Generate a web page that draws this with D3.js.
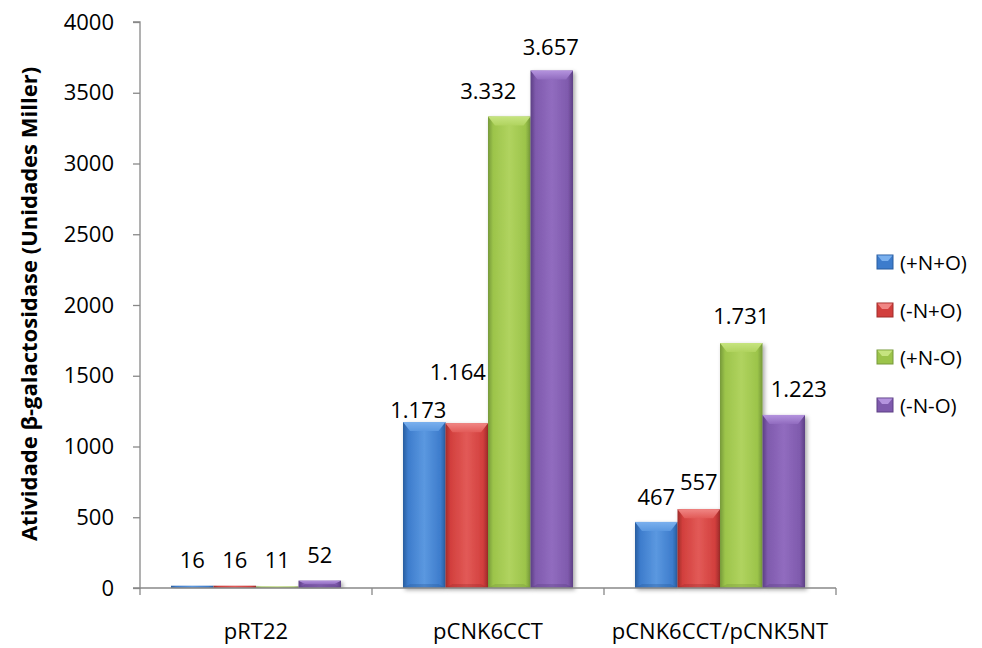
<!DOCTYPE html>
<html><head><meta charset="utf-8">
<script src="https://cdn.jsdelivr.net/npm/d3@7"></script>
<style>
html,body{margin:0;padding:0;background:#fff;}
text{font-family:"Open Sans","Liberation Sans",sans-serif;fill:#000;}
</style></head>
<body>
<svg id="chart" width="982" height="648"></svg>
<script>
const categories = ["pRT22", "pCNK6CCT", "pCNK6CCT/pCNK5NT"];
const seriesNames = ["(+N+O)", "(-N+O)", "(+N-O)", "(-N-O)"];
const valuesPlusNPlusO = [16, 1173, 467];
const valuesMinusNPlusO = [16, 1164, 557];
const valuesPlusNMinusO = [11, 3332, 1731];
const valuesMinusNMinusO = [52, 3657, 1223];
const yTicks = [0, 500, 1000, 1500, 2000, 2500, 3000, 3500, 4000];
const yTitle = "Atividade β-galactosidase (Unidades Miller)";

const seriesValues = [valuesPlusNPlusO, valuesMinusNPlusO, valuesPlusNMinusO, valuesMinusNMinusO];
const colors = [
  {base:"#3d7ccc", light:"#5b98e0", dark:"#295d9f", top:"#7ab0ee"},
  {base:"#d23f3d", light:"#e25a57", dark:"#a02c2a", top:"#f08684"},
  {base:"#9cc44a", light:"#b0d35f", dark:"#76993a", top:"#c6e47f"},
  {base:"#7f5aad", light:"#916cbf", dark:"#5c3f84", top:"#b493de"}
];
// manual label nudges [series][category] = [dx, dy]
const labelNudge = [
  [[0,0],[-6,14],[0,1]],
  [[0,0],[-9,-25],[0,-1]],
  [[0,0],[-21,0],[0,-1]],
  [[0,0],[-1,2],[15,0]]
];

const svg = d3.select("#chart");
const x0 = d3.scaleBand().domain(categories).range([140, 836]);
const x1 = d3.scaleBand().domain(d3.range(seriesNames.length)).range([31, x0.bandwidth() - 31]);
const y = d3.scaleLinear().domain([0, 4000]).range([588, 22]);

const defs = svg.append("defs");
colors.forEach((c, i) => {
  const g = defs.append("linearGradient").attr("id", "g" + i).attr("x1", "0").attr("x2", "1").attr("y1", "0").attr("y2", "0");
  g.append("stop").attr("offset", "0").attr("stop-color", c.dark);
  g.append("stop").attr("offset", "0.12").attr("stop-color", c.base);
  g.append("stop").attr("offset", "0.5").attr("stop-color", c.light);
  g.append("stop").attr("offset", "0.88").attr("stop-color", c.base);
  g.append("stop").attr("offset", "1").attr("stop-color", c.dark);
  const t = defs.append("linearGradient").attr("id", "t" + i).attr("x1", "0").attr("x2", "0").attr("y1", "0").attr("y2", "1");
  t.append("stop").attr("offset", "0").attr("stop-color", c.top);
  t.append("stop").attr("offset", "1").attr("stop-color", c.light);
});
const f = defs.append("filter").attr("id", "shadow").attr("x", "-20%").attr("y", "-5%").attr("width", "150%").attr("height", "115%");
f.append("feDropShadow").attr("dx", 2).attr("dy", 2).attr("stdDeviation", 2).attr("flood-color", "#000").attr("flood-opacity", 0.35);

// bars
const barsG = svg.append("g");
categories.forEach((cat, ci) => {
  seriesValues.forEach((vals, si) => {
    const v = vals[ci];
    const bx = x0(cat) + x1(si);
    const bw = x1.bandwidth();
    const top = y(v);
    const h = y(0) - top;
    const g = barsG.append("g").attr("filter", "url(#shadow)");
    g.append("rect").attr("x", bx).attr("y", top).attr("width", bw).attr("height", h).attr("fill", `url(#g${si})`);
    const bev = Math.min(9, h / 2);
    const side = Math.min(7, bw / 3);
    if (h > 3) {
      g.append("path")
        .attr("d", `M${bx},${top}L${bx + bw},${top}L${bx + bw - side},${top + bev}L${bx + side},${top + bev}Z`)
        .attr("fill", `url(#t${si})`);
      g.append("path")
        .attr("d", `M${bx},${y(0)}L${bx + bw},${y(0)}L${bx + bw - side},${y(0) - Math.min(4, h/2)}L${bx + side},${y(0) - Math.min(4, h/2)}Z`)
        .attr("fill", colors[si].dark).attr("opacity", 0.35);
    }
  });
});

// labels
const fmt = v => v >= 1000 ? d3.format(",")(v).replace(/,/g, ".") : String(v);
categories.forEach((cat, ci) => {
  seriesValues.forEach((vals, si) => {
    const v = vals[ci];
    const cx = x0(cat) + x1(si) + x1.bandwidth() / 2;
    const nd = labelNudge[si][ci];
    svg.append("text").attr("x", cx + nd[0]).attr("y", y(v) - 18 + nd[1])
      .attr("text-anchor", "middle").attr("font-size", 22).text(fmt(v));
  });
});

// y axis
const yAxis = svg.append("g").attr("transform", "translate(140,0)")
  .call(d3.axisLeft(y).tickValues(yTicks).tickSize(7).tickPadding(19).tickFormat(d3.format("d")));
yAxis.selectAll("path,line").attr("stroke", "#888").attr("stroke-width", 1.3);
yAxis.select(".domain").attr("d", "M-7,22H0V588H-7");
yAxis.selectAll("text").attr("font-size", 22).attr("font-family", '"Open Sans",sans-serif').attr("fill", "#000");

// x axis
const xAxis = svg.append("g").attr("transform", "translate(0,588)");
xAxis.append("line").attr("x1", 140).attr("x2", 836).attr("y1", 0).attr("y2", 0).attr("stroke", "#888").attr("stroke-width", 1.3);
const bounds = categories.map(c => x0(c)).concat([x0.range()[1]]);
xAxis.selectAll("line.tk").data(bounds).join("line").attr("class", "tk")
  .attr("x1", d => d).attr("x2", d => d).attr("y1", 0).attr("y2", 7).attr("stroke", "#888").attr("stroke-width", 1.3);
xAxis.selectAll("text").data(categories).join("text")
  .attr("x", d => x0(d) + x0.bandwidth() / 2).attr("y", 51)
  .attr("text-anchor", "middle").attr("font-size", 22).text(d => d);

// y title
svg.append("text").attr("transform", "translate(37,304) rotate(-90)")
  .attr("text-anchor", "middle").attr("font-size", 22).attr("font-weight", "bold").text(yTitle);

// legend
const legY = [262, 310, 357, 405];
const leg = svg.append("g");
seriesNames.forEach((n, i) => {
  const g = leg.append("g").attr("transform", `translate(877,${legY[i]})`);
  g.append("rect").attr("x", 0).attr("y", -7).attr("width", 16).attr("height", 14).attr("fill", colors[i].base).attr("stroke", colors[i].dark).attr("stroke-width", 1);
  g.append("path").attr("d", "M0.5,-6.5L15.5,-6.5L11,-1L5,-1Z").attr("fill", colors[i].top);
  g.append("text").attr("x", 23).attr("y", 7.5).attr("font-size", 20.5).text(n);
});
</script>
</body></html>
